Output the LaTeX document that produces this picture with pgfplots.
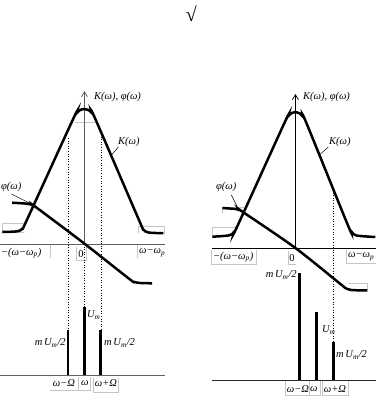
\documentclass[border=0pt]{standalone}
\usepackage{fontspec}
\setmainfont{Liberation Serif}
\usepackage{pgfplots}
\pgfplotsset{compat=1.18}
\usetikzlibrary{arrows.meta}
\tikzset{lab/.style={font=\fontsize{10.5}{12}\selectfont\itshape, inner sep=0.5pt}}
\pgfplotsset{
  curve/.style={black,line width=2.5pt,smooth,tension=0.5,no markers},
  bar/.style={black,line width=2.7pt,no markers,line cap=butt},
  box/.style={gray!45,line width=0.5pt,no markers},
  dots/.style={black,dotted,line width=0.6pt,no markers}}
\begin{document}
\begin{tikzpicture}
\begin{axis}[width=376pt,height=412pt,scale only axis,
  xmin=0,xmax=376,ymin=0,ymax=412,y dir=reverse,hide axis,clip=false]

% invisible frame so the picture spans the whole canvas
\addplot[draw=none,no markers] coordinates {(0,0) (376,412)};

% ---------- faint label boxes (left) ----------
\addplot[box] coordinates {(24,232) (2,232) (2,223) (24,223)};
\addplot[box] coordinates {(75,122) (95,122)};
\addplot[box] coordinates {(138,233) (138,226) (164,226) (164,234)};
\addplot[box] coordinates {(50,244) (50,258)};
\addplot[box] coordinates {(137,244) (137,258)};
\addplot[box] coordinates {(76,247) (76,260) (86,260) (86,247)};
\addplot[box] coordinates {(50,390) (78,390)};
\addplot[box] coordinates {(78,377) (78,390) (90,390) (90,377)};
\addplot[box] coordinates {(93,378) (93,392) (118,392) (118,378)};
% ---------- faint label boxes (right) ----------
\addplot[box] coordinates {(222,213) (222,207) (244,207)};
\addplot[box] coordinates {(212,237) (212,227) (237,227)};
\addplot[box] coordinates {(348,283) (367,283) (367,290)};
\addplot[box] coordinates {(211,250) (211,264) (256,264) (256,250)};
\addplot[box] coordinates {(288,251) (288,264) (296,264)};
\addplot[box] coordinates {(346,250) (346,263) (376,263)};
\addplot[box] coordinates {(285,381) (285,395) (309,395) (309,381)};
\addplot[box] coordinates {(309,395) (320,395) (320,381)};
\addplot[box] coordinates {(322,381) (322,395) (348,395) (348,381)};

% ---------- left panel axes ----------
\addplot[gray!75!black,line width=0.8pt,no markers] coordinates {(0,244) (165,244)};
\addplot[gray!75!black,line width=0.8pt,no markers,-{Straight Barb[length=5pt,width=6pt]}] coordinates {(84,244) (84,91)};
\addplot[gray!75!black,line width=0.8pt,no markers] coordinates {(0,375) (165,375)};

% K(omega), left
\addplot[curve] coordinates {
 (2,232) (17,231.3) (22,228.6) (26,221) (72.5,119.5) (76,113.5) (79.5,110.2)
 (83.5,109) (87.5,109.8) (91,112.5) (94.5,118) (139,221) (143,229.5)
 (148,232.5) (163,233.2)};
% phi(omega), left
\addplot[curve] coordinates {
 (11.7,202.7) (28,203.8) (32,205) (36,207.5) (84.5,244) (129,279)
 (134,282) (140,283) (151.7,283.3)};

% dotted projections, left
\addplot[dots] coordinates {(67.7,138) (67.7,330)};
\addplot[dots] coordinates {(84,244) (84,307)};
\addplot[dots] coordinates {(100.5,134) (100.5,330)};

% spectrum, left
\addplot[bar] coordinates {(67.7,375) (67.7,330)};
\addplot[bar] coordinates {(84,375) (84,307)};
\addplot[bar] coordinates {(100.3,375) (100.3,330)};

% leaders, left
\addplot[black,line width=0.5pt,no markers] coordinates {(118,147) (111,155)};
\addplot[black,line width=0.5pt,no markers] coordinates {(11,194) (31,204)};

% labels, left
\node[lab,anchor=west] at (axis cs:93,97) {K(ω), φ(ω)};
\node[lab,anchor=west] at (axis cs:117,142) {K(ω)};
\node[lab,anchor=west] at (axis cs:0,187) {φ(ω)};
\node[lab,anchor=west] at (axis cs:0,253) {−(ω−ω\textsubscript{p})};
\node[lab,font=\fontsize{10.5}{12}\selectfont] at (axis cs:80.5,254) {0};
\node[lab,anchor=west] at (axis cs:138,253) {ω−ω\textsubscript{p}};
\node[lab,anchor=east] at (axis cs:66,343) {m\,U\textsubscript{m}/2};
\node[lab,anchor=west] at (axis cs:86,315) {U\textsubscript{m}};
\node[lab,anchor=west] at (axis cs:103,343) {m\,U\textsubscript{m}/2};
\node[lab] at (axis cs:63.5,383) {ω−Ω};
\node[lab] at (axis cs:84.5,383) {ω};
\node[lab] at (axis cs:105.5,383) {ω+Ω};

% ---------- right panel axes ----------
\addplot[black,line width=0.7pt,no markers] coordinates {(212,248) (376,248)};
\addplot[black,line width=0.7pt,no markers,-{Straight Barb[length=5pt,width=6pt]}] coordinates {(295,248) (295,94)};
\addplot[black!85,line width=0.8pt,no markers] coordinates {(212,380) (376,380)};

% K(omega), right
\addplot[curve] coordinates {
 (212,236.7) (229,235.3) (233.5,232) (237.5,225) (284,123) (288,116)
 (291.5,113) (295,112) (298.5,113) (302,116) (306,123) (347,224)
 (351,231.5) (356,235.5) (375,237)};
% phi(omega), right
\addplot[curve] coordinates {
 (222,208) (235,209) (240,210.5) (244,213) (295,248) (340,284)
 (345,288) (351,290) (367,290.5)};

% dotted projection, right
\addplot[dots] coordinates {(333.3,190) (333.3,342)};

% spectrum, right
\addplot[bar] coordinates {(299.3,380) (299.3,273)};
\addplot[bar] coordinates {(316,380) (316,312)};
\addplot[bar] coordinates {(332.8,380) (332.8,342)};

% leaders, right
\addplot[black,line width=0.5pt,no markers] coordinates {(328,147) (320,154)};
\addplot[black,line width=0.5pt,no markers] coordinates {(231,195) (237,207)};

% labels, right
\node[lab,anchor=west] at (axis cs:302,97) {K(ω), φ(ω)};
\node[lab,anchor=west] at (axis cs:328,142) {K(ω)};
\node[lab,anchor=west] at (axis cs:215,187) {φ(ω)};
\node[lab,anchor=west] at (axis cs:212,257) {−(ω−ω\textsubscript{p})};
\node[lab,font=\fontsize{10.5}{12}\selectfont] at (axis cs:291.5,258) {0};
\node[lab,anchor=west] at (axis cs:347,257) {ω−ω\textsubscript{p}};
\node[lab,anchor=east] at (axis cs:297,275) {m\,U\textsubscript{m}/2};
\node[lab,anchor=west] at (axis cs:321,330) {U\textsubscript{m}};
\node[lab,anchor=west] at (axis cs:335,355) {m\,U\textsubscript{m}/2};
\node[lab] at (axis cs:297.5,389) {ω−Ω};
\node[lab] at (axis cs:313.5,389) {ω};
\node[lab] at (axis cs:334.5,389) {ω+Ω};

% stray radical sign at the top
\node[font=\fontsize{20}{20}\selectfont,inner sep=0pt] at (axis cs:191,14) {√};
\end{axis}
\end{tikzpicture}
\end{document}
